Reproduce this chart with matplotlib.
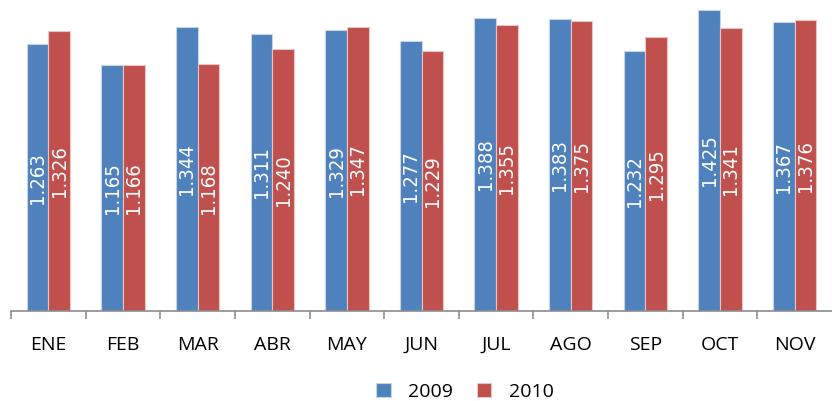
import numpy as np
import matplotlib.pyplot as plt
from matplotlib.ticker import FixedLocator

# monthly values, two years
months = ['ENE', 'FEB', 'MAR', 'ABR', 'MAY', 'JUN', 'JUL', 'AGO', 'SEP', 'OCT', 'NOV']
v2009 = [1.263, 1.165, 1.344, 1.311, 1.329, 1.277, 1.388, 1.383, 1.232, 1.425, 1.367]
v2010 = [1.326, 1.166, 1.168, 1.240, 1.347, 1.229, 1.355, 1.375, 1.295, 1.341, 1.376]
series_names = ['2009', '2010']

blue = '#4F81BD'
red = '#C0504D'

fig = plt.figure(figsize=(8.32, 4.01), dpi=100)
ax = fig.add_axes([11/832, 1 - 311/401, 821/832, 311/401])

x = np.arange(len(months))
w = 0.29
b1 = ax.bar(x - w/2, v2009, w, color=blue, edgecolor='#C6D4E8', linewidth=0.8, label=series_names[0])
b2 = ax.bar(x + w/2, v2010, w, color=red, edgecolor='#E8C4C3', linewidth=0.8, label=series_names[1])

for bars, vals in [(b1, v2009), (b2, v2010)]:
    for r, v in zip(bars, vals):
        ax.text(r.get_x() + r.get_width()/2, v/2, f'{v:.3f}', rotation=90,
                ha='center', va='center', color='white', fontsize=14.5,
                family='DejaVu Sans', fontstretch='condensed')

ax.set_xlim(-0.5, len(months) - 0.5)
ax.set_ylim(0, 311/211.2)

for s in ['top', 'right', 'left']:
    ax.spines[s].set_visible(False)
ax.spines['bottom'].set_color('#8C8C8C')
ax.spines['bottom'].set_linewidth(1.2)
ax.set_yticks([])

ax.set_xticks(x)
ax.set_xticklabels(months, fontsize=14, family='Open Sans')
ax.tick_params(axis='x', which='major', length=0, pad=18)
ax.xaxis.set_minor_locator(FixedLocator(np.arange(len(months)) - 0.5))
ax.tick_params(axis='x', which='minor', length=6, color='#8C8C8C', width=1.2)

fig.legend(handles=[b1, b2], labels=series_names, loc='center', bbox_to_anchor=(465/832, 1 - 392/401),
           ncol=2, frameon=False, prop={'family': 'Open Sans', 'size': 14},
           handlelength=0.75, handleheight=0.75, columnspacing=1.2, handletextpad=0.9)

fig.savefig('out.png', dpi=100)
